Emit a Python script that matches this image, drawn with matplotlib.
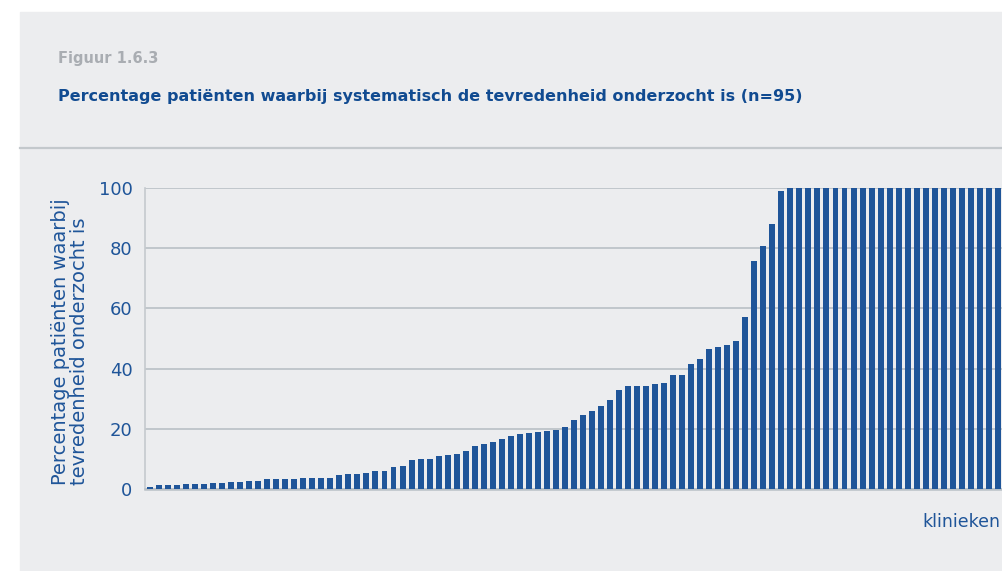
import matplotlib.pyplot as plt
from matplotlib.patches import Rectangle
from matplotlib.lines import Line2D

# Percentage per kliniek, gesorteerd (n=95)
percentages = [0.7, 1.3, 1.3, 1.3, 1.7, 1.7, 1.7, 2.0, 2.0, 2.3,
               2.3, 2.7, 2.7, 3.3, 3.3, 3.3, 3.3, 3.7, 3.7, 3.7,
               3.7, 4.7, 5.0, 5.0, 5.3, 6.0, 6.0, 7.3, 7.6, 9.6,
               10.0, 10.0, 11.0, 11.3, 11.6, 12.6, 14.3, 15.0, 15.6, 16.6,
               17.6, 18.3, 18.6, 18.9, 19.3, 19.6, 20.6, 22.9, 24.6, 25.9,
               27.5, 29.5, 32.9, 34.2, 34.2, 34.2, 34.8, 35.2, 37.8, 37.8,
               41.5, 43.1, 46.5, 47.1, 47.8, 49.1, 57.1, 75.7, 80.6, 87.9,
               99.0, 100, 100, 100, 100, 100, 100, 100, 100, 100,
               100, 100, 100, 100, 100, 100, 100, 100, 100, 100,
               100, 100, 100, 100, 100]
y_ticks = [0, 20, 40, 60, 80, 100]

fig_label = 'Figuur 1.6.3'
title = 'Percentage patiënten waarbij systematisch de tevredenheid onderzocht is (n=95)'
y_label = 'Percentage patiënten waarbij\ntevredenheid onderzocht is'
x_label = 'klinieken'

W, H = 1003, 571
panel_col = '#ECEDEF'
blue = '#1F5599'
title_blue = '#114B91'
grid_col = '#B9C0C6'

fig = plt.figure(figsize=(W / 100, H / 100), dpi=100)
fig.patch.set_facecolor('white')
fig.patches.append(Rectangle((20 / W, 0), 1 - 20 / W, 1 - 12 / H,
                             transform=fig.transFigure, color=panel_col, zorder=-5))
fig.add_artist(Line2D([20 / W, 1], [1 - 148 / H] * 2, color='#C3C8CC', lw=1.6))

fig.text(58 / W, 1 - 58 / H, fig_label, color='#A9ADB2', fontsize=10.5,
         fontweight='bold', va='center')
fig.text(58 / W, 1 - 97 / H, title, color=title_blue, fontsize=11.5,
         fontweight='bold', va='center')

ax = fig.add_axes([145 / W, (H - 489) / H, (W - 145) / W, 301 / H])
ax.set_facecolor(panel_col)
x = list(range(len(percentages)))
ax.bar(x, percentages, width=0.66, color=blue, zorder=3)
ax.set_xlim(-0.55, 94.57)
ax.set_ylim(0, 100)
ax.set_yticks(y_ticks)
ax.set_xticks([])
ax.tick_params(axis='y', length=0, pad=9, labelsize=13, labelcolor=blue)
ax.grid(axis='y', color=grid_col, lw=1.2, zorder=1)
for s in ['top', 'right']:
    ax.spines[s].set_visible(False)
ax.spines['left'].set_color('#C5CACE')
ax.spines['left'].set_linewidth(1.2)
ax.spines['bottom'].set_color(grid_col)
ax.spines['bottom'].set_linewidth(1.8)

fig.text(70 / W, 1 - 342 / H, y_label, rotation=90, ha='center', va='center',
         multialignment='left', color=blue, fontsize=14, linespacing=0.95)
fig.text(1000 / W, 1 - 522 / H, x_label, ha='right', va='center',
         color=blue, fontsize=12.5)

fig.savefig('out.png', dpi=100, facecolor=fig.get_facecolor())
